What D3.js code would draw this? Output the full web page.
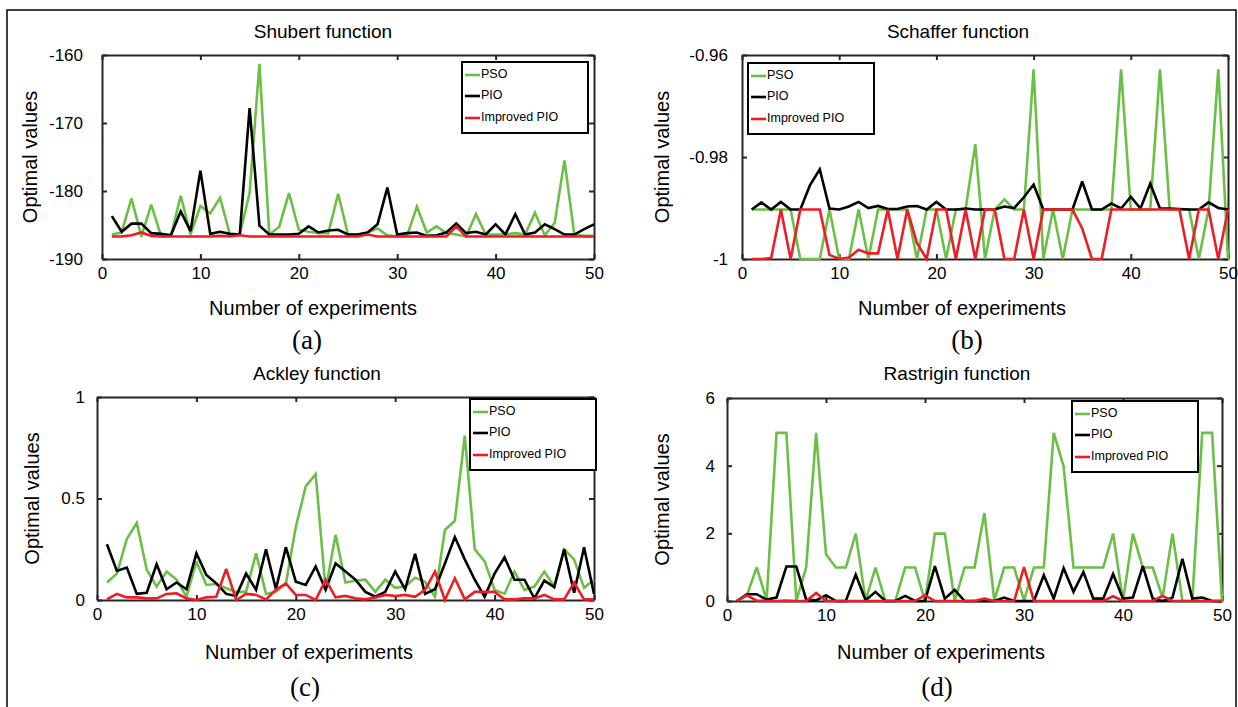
<!DOCTYPE html>
<html>
<head>
<meta charset="utf-8">
<script src="https://cdn.jsdelivr.net/npm/d3@7"></script>
<style>
  body { margin: 0; background: #fff; }
  svg text { font-family: "Liberation Sans", Arial, Helvetica, sans-serif; fill: #000; }
  .tag { font-family: "Liberation Serif", "Times New Roman", serif !important; }
</style>
</head>
<body>
<svg id="fig" width="1238" height="707"></svg>
<script>
// Experiment index (x axis) and shared tick values
const experiments = d3.range(1, 51);
const xTicks = [0, 10, 20, 30, 40, 50];
const seriesNames = ["PSO", "PIO", "Improved PIO"];

// (a) Shubert function
const shubertPSO = [-186.4,-186.1,-181.1,-186.7,-182.0,-186.6,-186.6,-180.7,-186.4,-182.2,
                    -183.3,-181.0,-186.4,-186.4,-180.3,-161.3,-186.4,-185.3,-180.3,-185.7,
                    -186.0,-186.2,-186.2,-180.4,-186.4,-186.4,-186.1,-185.5,-186.5,-186.7,
                    -186.6,-182.3,-186.1,-185.2,-186.2,-186.4,-186.7,-183.4,-186.4,-186.4,
                    -186.4,-186.2,-186.4,-183.2,-186.5,-184.7,-175.5,-186.4,-186.6,-186.6];
const shubertPIO = [-183.7,-186.0,-184.8,-184.8,-186.2,-186.3,-186.5,-183.0,-185.9,-177.0,
                    -186.3,-186.0,-186.3,-186.4,-167.8,-185.1,-186.4,-186.4,-186.4,-186.3,
                    -185.2,-186.1,-185.8,-185.7,-186.4,-186.4,-186.1,-184.9,-179.5,-186.4,
                    -186.2,-186.1,-186.6,-186.5,-186.1,-184.8,-186.2,-186.0,-186.4,-184.9,
                    -186.4,-183.4,-186.4,-186.1,-184.9,-185.6,-186.4,-186.4,-185.6,-184.9];
const shubertImproved = [-186.7,-186.7,-186.5,-186.1,-186.6,-186.7,-186.7,-186.7,-186.7,-186.7,
                         -186.7,-186.6,-186.7,-186.5,-186.7,-186.7,-186.7,-186.7,-186.7,-186.7,
                         -186.7,-186.7,-186.7,-186.7,-186.7,-186.7,-186.4,-186.7,-186.7,-186.7,
                         -186.7,-186.7,-186.7,-186.7,-186.7,-185.2,-186.7,-186.7,-186.7,-186.7,
                         -186.7,-186.7,-186.7,-186.7,-186.7,-186.7,-186.7,-186.7,-186.7,-186.7];
const shubertTicks = [-190, -180, -170, -160];

// (b) Schaffer function
const schafferPSO = [-0.9903,-0.9903,-0.9903,-0.9903,-0.9903,-1,-1,-1,-0.9903,-1,
                     -1,-0.9903,-1,-0.9903,-0.9903,-0.9903,-0.9903,-1,-0.9903,-0.9903,
                     -1,-0.9903,-0.9903,-0.9775,-1,-0.9903,-0.9883,-0.9903,-0.9903,-0.9628,
                     -1,-0.9903,-1,-0.9903,-0.9903,-0.9903,-0.9903,-0.9903,-0.9628,-0.9903,
                     -0.9903,-0.9903,-0.9628,-0.9903,-0.9903,-0.9903,-1,-0.9903,-0.9628,-1];
const schafferPIO = [-0.9903,-0.9889,-0.9903,-0.9888,-0.9903,-0.9903,-0.9855,-0.9824,-0.9901,-0.9903,
                     -0.9897,-0.9888,-0.9900,-0.9896,-0.9902,-0.9902,-0.9897,-0.9896,-0.9903,-0.9888,
                     -0.9903,-0.9903,-0.9901,-0.9903,-0.9903,-0.9903,-0.9897,-0.9900,-0.9879,-0.9854,
                     -0.9903,-0.9903,-0.9903,-0.9903,-0.9848,-0.9903,-0.9903,-0.9891,-0.9901,-0.9878,
                     -0.9901,-0.9852,-0.9901,-0.9901,-0.9902,-0.9903,-0.9903,-0.9889,-0.9900,-0.9903];
const schafferImproved = [-1,-1,-0.9998,-0.9903,-1,-0.9903,-0.9903,-0.9903,-0.9992,-1,
                          -0.9997,-0.9982,-0.9989,-0.9989,-0.9903,-1,-0.9903,-0.9969,-1,-0.9903,
                          -0.9903,-1,-0.9903,-1,-0.9903,-0.9903,-1,-1,-0.9903,-1,
                          -0.9903,-0.9903,-0.9903,-0.9903,-0.9940,-1,-1,-0.9903,-0.9903,-0.9903,
                          -0.9903,-0.9903,-0.9903,-0.9903,-0.9903,-1,-0.9903,-0.9903,-1,-0.9903];
const schafferTicks = [-1, -0.98, -0.96];

// (c) Ackley function
const ackleyPSO = [0.086,0.13,0.30,0.38,0.15,0.066,0.14,0.10,0.016,0.19,
                   0.074,0.079,0.058,0.04,0.04,0.23,0.03,0.04,0.08,0.36,
                   0.56,0.62,0.05,0.32,0.086,0.095,0.10,0.04,0.10,0.06,
                   0.066,0.11,0.09,0.016,0.345,0.39,0.81,0.25,0.19,0.05,
                   0.03,0.14,0.05,0.066,0.14,0.066,0.25,0.20,0.06,0.10];
const ackleyPIO = [0.275,0.143,0.16,0.03,0.036,0.176,0.053,0.086,0.053,0.23,
                   0.123,0.082,0.03,0.02,0.13,0.05,0.25,0.053,0.26,0.09,
                   0.074,0.165,0.05,0.18,0.14,0.10,0.04,0.016,0.04,0.14,
                   0.053,0.227,0.03,0.053,0.18,0.31,0.20,0.10,0.016,0.13,
                   0.21,0.10,0.10,0.008,0.095,0.063,0.25,0.036,0.26,0.03];
const ackleyImproved = [0.003,0.03,0.013,0.013,0.008,0.008,0.03,0.033,0.008,0.0,
                        0.013,0.016,0.153,0.0,0.03,0.025,0.003,0.05,0.082,0.025,
                        0.025,0.0,0.10,0.013,0.02,0.008,0.003,0.013,0.025,0.02,
                        0.025,0.016,0.05,0.14,0.0,0.107,0.003,0.04,0.04,0.04,
                        0.003,0.003,0.008,0.008,0.025,0.003,0.003,0.086,0.003,0.003];
const ackleyTicks = [0, 0.5, 1];

// (d) Rastrigin function
const rastriginPSO = [0,0.15,1.0,0.02,4.97,4.97,0,1.0,4.97,1.38,
                      0.99,0.99,1.99,0.02,0.99,0,0,0.99,0.99,0,
                      1.99,1.99,0,0.99,0.99,2.6,0.02,0.99,0.99,0.02,
                      0.99,0.99,4.97,3.98,0.99,0.99,0.99,0.99,1.99,0,
                      1.99,0.99,0.99,0.1,1.99,0,0,4.97,4.97,0];
const rastriginPIO = [0,0.2,0.2,0.04,0.1,1.02,1.02,0.04,0.02,0.17,
                      0,0,0.78,0.02,0.27,0,0,0.15,0,0,
                      1.03,0.07,0.33,0,0,0,0,0.1,0,0,
                      0,0.76,0.07,0.97,0.27,0.86,0.07,0.07,0.8,0.07,
                      0.1,1.03,0.07,0,0.1,1.25,0.07,0.1,0,0];
const rastriginImproved = [0,0.17,0.01,0,0,0.01,0,0,0.24,0,
                           0,0,0,0,0,0,0,0,0,0.17,
                           0,0,0,0,0,0.07,0,0,0,1.0,
                           0,0,0,0,0,0,0,0,0.14,0,
                           0,0,0,0.15,0,0,0,0,0,0];
const rastriginTicks = [0, 2, 4, 6];

// Panel layout (pixel frame of each axes box and its annotations)
const panels = [
  { title: "Shubert function", tag: "(a)", series: [shubertPSO, shubertPIO, shubertImproved],
    yDomain: [-190, -160], yTicks: shubertTicks,
    left: 102, right: 594, top: 55, bottom: 259, ylabGap: 19,
    titleX: 323, titleY: 38, xlabX: 313, xlabY: 315, tagX: 307, tagY: 349, ylabX: 30,
    legend: { x: 462, y: 62 } },
  { title: "Schaffer function", tag: "(b)", series: [schafferPSO, schafferPIO, schafferImproved],
    yDomain: [-1, -0.96], yTicks: schafferTicks,
    left: 742, right: 1228, top: 55, bottom: 259, ylabGap: 14,
    titleX: 958, titleY: 38, xlabX: 962, xlabY: 315, tagX: 967, tagY: 349, ylabX: 662,
    legend: { x: 748, y: 63 } },
  { title: "Ackley function", tag: "(c)", series: [ackleyPSO, ackleyPIO, ackleyImproved],
    yDomain: [0, 1], yTicks: ackleyTicks,
    left: 97, right: 594, top: 397, bottom: 600, ylabGap: 12,
    titleX: 317, titleY: 380, xlabX: 309, xlabY: 659, tagX: 305, tagY: 696, ylabX: 32,
    legend: { x: 470, y: 399 } },
  { title: "Rastrigin function", tag: "(d)", series: [rastriginPSO, rastriginPIO, rastriginImproved],
    yDomain: [0, 6], yTicks: rastriginTicks,
    left: 727, right: 1222, top: 398, bottom: 601, ylabGap: 12,
    titleX: 957, titleY: 380, xlabX: 941, xlabY: 659, tagX: 937, tagY: 696, ylabX: 662,
    legend: { x: 1072, y: 401 } }
];

const colors = ["#6cbf46", "#000000", "#ee1c25"];
const axisColor = "#262626";

const svg = d3.select("#fig");

// outer figure frame
svg.append("rect")
  .attr("x", 7).attr("y", 10).attr("width", 1229).attr("height", 720)
  .attr("fill", "none").attr("stroke", "#000").attr("stroke-width", 1.5);

function styleAxis(sel, fontSize) {
  sel.attr("font-family", null).attr("font-size", null);
  sel.select(".domain").attr("stroke", axisColor).attr("stroke-width", 2);
  sel.selectAll(".tick line").attr("stroke", axisColor).attr("stroke-width", 2);
  sel.selectAll(".tick text").attr("fill", "#000").style("font-size", fontSize + "px");
}

panels.forEach(p => {
  const x = d3.scaleLinear().domain([0, 50]).range([p.left, p.right]);
  const y = d3.scaleLinear().domain(p.yDomain).range([p.bottom, p.top]);
  const g = svg.append("g");

  // axes box with inward ticks on all four sides
  g.append("g").attr("transform", `translate(0,${p.bottom})`)
    .call(d3.axisBottom(x).tickValues(xTicks).tickSizeInner(-5).tickSizeOuter(0)
      .tickPadding(8).tickFormat(d => String(d)))
    .call(s => styleAxis(s, 17));
  g.append("g").attr("transform", `translate(0,${p.top})`)
    .call(d3.axisTop(x).tickValues(xTicks).tickSizeInner(-5).tickSizeOuter(0).tickFormat(""))
    .call(s => styleAxis(s, 17));
  g.append("g").attr("transform", `translate(${p.left},0)`)
    .call(d3.axisLeft(y).tickValues(p.yTicks).tickSizeInner(-5).tickSizeOuter(0)
      .tickPadding(p.ylabGap).tickFormat(d => String(d)))
    .call(s => styleAxis(s, 17));
  g.append("g").attr("transform", `translate(${p.right},0)`)
    .call(d3.axisRight(y).tickValues(p.yTicks).tickSizeInner(-5).tickSizeOuter(0).tickFormat(""))
    .call(s => styleAxis(s, 17));

  // series lines: PSO, PIO, Improved PIO
  const line = d3.line().x((d, i) => x(experiments[i])).y(d => y(d));
  p.series.forEach((vals, k) => {
    g.append("path").datum(vals)
      .attr("d", line)
      .attr("fill", "none")
      .attr("stroke", colors[k])
      .attr("stroke-width", 2.6)
      .attr("stroke-linejoin", "miter")
      .attr("stroke-miterlimit", 3);
  });

  // legend
  const lg = g.append("g").attr("transform", `translate(${p.legend.x},${p.legend.y})`);
  lg.append("rect").attr("width", 126).attr("height", 71)
    .attr("fill", "#fff").attr("stroke", "#000").attr("stroke-width", 2);
  const rowY = [12, 33, 55];
  seriesNames.forEach((name, k) => {
    lg.append("line").attr("x1", 3).attr("x2", 18).attr("y1", rowY[k] + 1).attr("y2", rowY[k] + 1)
      .attr("stroke", colors[k]).attr("stroke-width", 2.6);
    lg.append("text").attr("x", 19).attr("y", rowY[k]).attr("dy", "0.35em")
      .style("font-size", "12.5px").text(name);
  });

  // title, axis labels and panel tag
  g.append("text").attr("x", p.titleX).attr("y", p.titleY).attr("text-anchor", "middle")
    .style("font-size", "19px").text(p.title);
  g.append("text").attr("x", p.xlabX).attr("y", p.xlabY).attr("text-anchor", "middle")
    .style("font-size", "20px").text("Number of experiments");
  g.append("text")
    .attr("transform", `translate(${p.ylabX},${(p.top + p.bottom) / 2}) rotate(-90)`)
    .attr("text-anchor", "middle").attr("dy", "0.35em")
    .style("font-size", "20px").text("Optimal values");
  g.append("text").attr("class", "tag").attr("x", p.tagX).attr("y", p.tagY)
    .attr("text-anchor", "middle").style("font-size", "27px").text(p.tag);
});
</script>
</body>
</html>
